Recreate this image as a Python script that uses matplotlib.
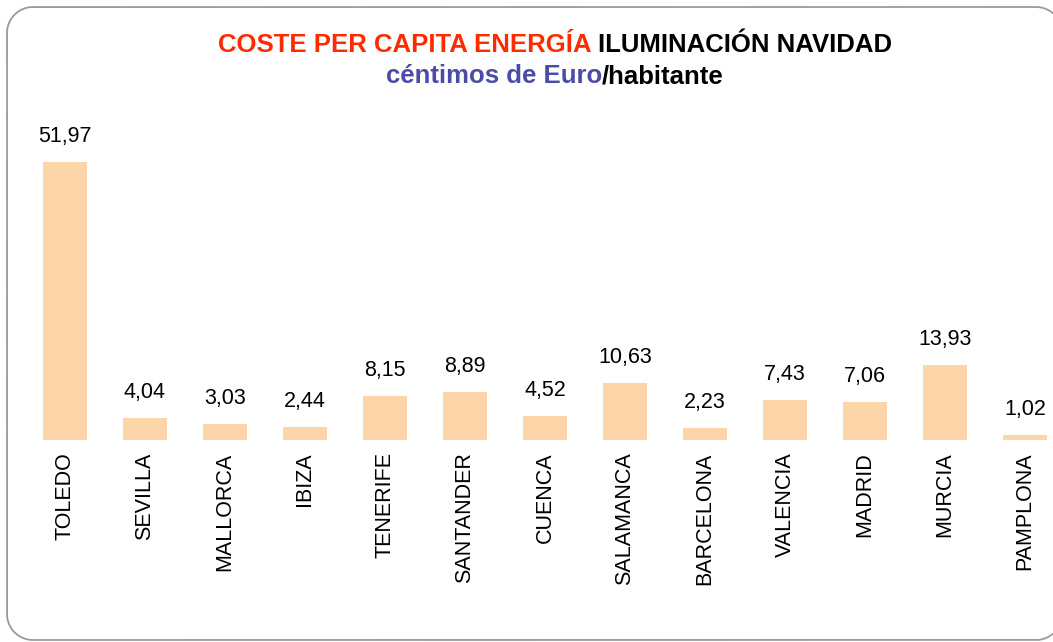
import matplotlib
matplotlib.use("Agg")
import numpy as np
import matplotlib.pyplot as plt
from matplotlib.lines import Line2D
from matplotlib.transforms import Affine2D

cities = ["TOLEDO", "SEVILLA", "MALLORCA", "IBIZA", "TENERIFE", "SANTANDER", "CUENCA",
          "SALAMANCA", "BARCELONA", "VALENCIA", "MADRID", "MURCIA", "PAMPLONA"]
values = [51.97, 4.04, 3.03, 2.44, 8.15, 8.89, 4.52, 10.63, 2.23, 7.43, 7.06, 13.93, 1.02]

W, H = 1053, 642
plt.rcParams['font.family'] = ['Liberation Sans', 'DejaVu Sans']
fig = plt.figure(figsize=(W / 100, H / 100), dpi=100)

# rounded frame (decoration) drawn as a polyline in pixel coords (y down),
# right side runs off the canvas as in the original
pix = Affine2D().scale(1, -1).translate(0, H).scale(1 / W, 1 / H) + fig.transFigure
L, T, R, B, r = 7, 7, 1062, 640, 26
def arc(cx, cy, a0, a1):
    t = np.radians(np.linspace(a0, a1, 40))
    return cx + r * np.cos(t), cy - r * np.sin(t)
a_cut = np.degrees(np.arccos((W - 0.5 - (R - r)) / r))
segs = [arc(R - r, T + r, a_cut, 90), arc(L + r, T + r, 90, 180),
        arc(L + r, B - r, 180, 270), arc(R - r, B - r, 270, 360 - a_cut)]
fx = np.concatenate([s[0] for s in segs])
fy = np.concatenate([s[1] for s in segs])
fig.add_artist(Line2D(fx, fy, transform=pix, color='#9a9a9a', linewidth=1.3,
                      solid_joinstyle='round', zorder=-1))

# axes: 13 slots of 80 px starting at x=25, baseline y=440
left, right = 25, 25 + 80 * 13
bottom, top = 440, 120
ax = fig.add_axes([left / W, 1 - bottom / H, (right - left) / W, (bottom - top) / H])
ax.set_facecolor('none')
x = list(range(len(cities)))
ax.bar(x, values, width=0.55, color='#FDD5A9', edgecolor='none')
ax.set_xlim(-0.5, len(cities) - 0.5)
ax.set_ylim(0, (bottom - top) / 5.349)
for s in ax.spines.values():
    s.set_visible(False)
ax.set_yticks([])
ax.set_xticks(x)
ax.set_xticklabels(cities, rotation=90, fontsize=15.5, va='top', ha='center')
ax.tick_params(axis='x', length=0, pad=9)
for xi, v in zip(x, values):
    ax.annotate(f"{v:.2f}".replace('.', ','), (xi, v), xytext=(0, 14.4),
                textcoords='offset points', ha='center', va='baseline', fontsize=15.5)

# title with coloured pieces
renderer = fig.canvas.get_renderer()

def multicolor(pieces, y, size):
    texts = []
    for s, c in pieces:
        t = fig.text(0, y, s, color=c, fontsize=size, fontweight='bold', ha='left', va='baseline')
        texts.append(t)
    widths = [t.get_window_extent(renderer).width for t in texts]
    total = sum(widths)
    xs = 555 - total / 2
    for t, w in zip(texts, widths):
        t.set_x(xs / W)
        xs += w

multicolor([("COSTE PER CAPITA ENERGÍA ", '#FF2A00'), ("ILUMINACIÓN NAVIDAD", '#000000')],
           1 - 52 / H, 18.5)
multicolor([("céntimos de Euro", '#4B4BAA'), ("/habitante", '#000000')], 1 - 83 / H, 18.5)

fig.savefig("out.png", dpi=100)
